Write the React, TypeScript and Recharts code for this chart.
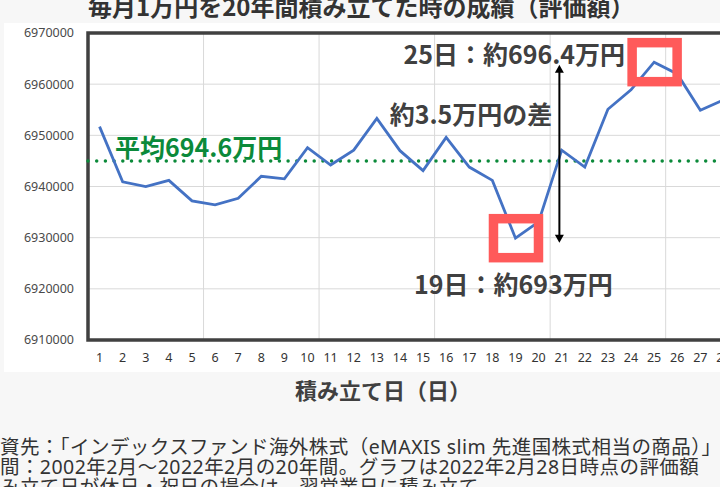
import {
  LineChart,
  Line,
  XAxis,
  YAxis,
  CartesianGrid,
  ReferenceLine,
  ReferenceArea,
} from 'recharts';

const days = [
  1, 2, 3, 4, 5, 6, 7, 8, 9, 10, 11, 12, 13, 14, 15, 16, 17, 18, 19, 20, 21,
  22, 23, 24, 25, 26, 27, 28,
];

// 評価額（円）
const values = [
  6951700, 6940900, 6940000, 6941200, 6937200, 6936400, 6937700, 6942000,
  6941500, 6947600, 6944200, 6947100, 6953300, 6947000, 6943100, 6949600,
  6943800, 6941200, 6929900, 6933100, 6947100, 6943800, 6955100, 6958900,
  6964300, 6962000, 6954900, 6956900,
];

const yTicks = [6910000, 6920000, 6930000, 6940000, 6950000, 6960000, 6970000];
const gridDays = [5.5, 10.5, 15.5, 20.5, 25.5];

const average = 6945000;
const averageLabel = '平均694.6万円';

const highlights = [
  { day: 25, label: '25日：約696.4万円' },
  { day: 19, label: '19日：約693万円' },
];

const diffArrow = { day: 20.9, from: 6929000, to: 6963800, label: '約3.5万円の差' };

const title = '毎月1万円を20年間積み立てた時の成績（評価額）';
const xTitle = '積み立て日（日）';
const notes = [
  '投資先：「インデックスファンド海外株式（eMAXIS slim 先進国株式相当の商品）」',
  '期間：2002年2月〜2022年2月の20年間。グラフは2022年2月28日時点の評価額',
  '積み立て日が休日・祝日の場合は、翌営業日に積み立て',
];

const data = days.map((d, i) => ({ day: d, value: values[i] }));

const JP = '"Noto Sans CJK JP", "Noto Sans", sans-serif';
const MIX = '"Noto Sans", "Noto Sans CJK JP", sans-serif';
const TEXT = '#404040';
const RED = '#ff5a5a';

const HighlightDot = (props: any) => {
  const { cx, cy, payload, index } = props;
  const h = highlights.find((x) => x.day === payload.day);
  if (!h) return <g key={index} />;
  const top = h.day === 25;
  return (
    <g key={index}>
      <rect
        x={cx - 22}
        y={cy - 19.5}
        width={45}
        height={39}
        fill='none'
        stroke={RED}
        strokeWidth={9.5}
      />
      <text
        x={top ? cx - 29 : cx - 2}
        y={top ? cy - 9 : cy + 45}
        textAnchor={top ? 'end' : 'middle'}
        dominantBaseline='central'
        fontFamily={JP}
        fontWeight={700}
        fontSize={25}
        fill={TEXT}
      >
        {h.label}
      </text>
    </g>
  );
};

const ArrowShape = (props: any) => {
  const { x1, y1, x2, y2 } = props;
  const top = Math.min(y1, y2);
  const bottom = Math.max(y1, y2);
  return (
    <g>
      <line x1={x1} y1={top + 6} x2={x2} y2={bottom - 6} stroke='#000' strokeWidth={2} />
      <path d={`M${x1},${top} L${x1 - 4.5},${top + 8} L${x1 + 4.5},${top + 8} Z`} fill='#000' />
      <path d={`M${x1},${bottom} L${x1 - 4.5},${bottom - 8} L${x1 + 4.5},${bottom - 8} Z`} fill='#000' />
      <text
        x={x1 - 7}
        y={top + 48}
        textAnchor='end'
        dominantBaseline='central'
        fontFamily={JP}
        fontWeight={700}
        fontSize={25}
        fill={TEXT}
      >
        {diffArrow.label}
      </text>
    </g>
  );
};

const AverageLabel = (props: any) => {
  const { viewBox } = props;
  return (
    <text
      x={viewBox.x + 27}
      y={viewBox.y - 15}
      dominantBaseline='central'
      fontFamily={JP}
      fontWeight={700}
      fontSize={25}
      fill='#0b8a3a'
    >
      {averageLabel}
    </text>
  );
};

export default function App() {
  return (
    <div
      style={{
        position: 'fixed',
        left: 0,
        top: 0,
        width: 720,
        height: 487,
        overflow: 'hidden',
        background: '#f7f7f7',
        fontFamily: MIX,
      }}
    >
      <div
        style={{
          position: 'absolute',
          left: 88,
          top: -8,
          fontFamily: JP,
          fontSize: 24,
          fontWeight: 700,
          color: '#333',
          whiteSpace: 'nowrap',
          lineHeight: '28px',
        }}
      >
        {title}
      </div>
      <div
        style={{
          position: 'absolute',
          left: 4,
          top: 23,
          width: 760,
          height: 349,
          background: '#fff',
        }}
      />
      <div style={{ position: 'absolute', left: 0, top: 0 }}>
        <LineChart
          width={760}
          height={372}
          data={data}
          margin={{ top: 33, right: 25, bottom: 2, left: 0 }}
        >
          <CartesianGrid
            stroke='#d9d9d9'
            verticalCoordinatesGenerator={({ offset }: any) =>
              gridDays.map((d) => offset.left + ((d - 0.5) / days.length) * offset.width)
            }
          />
          <XAxis
            dataKey='day'
            type='number'
            domain={[0.5, days.length + 0.5]}
            ticks={days}
            interval={0}
            height={30}
            axisLine={false}
            tickLine={false}
            tickSize={0}
            tickMargin={13}
            tick={{ fontSize: 12.5, fill: '#333', fontFamily: '"Noto Sans", sans-serif' }}
          />
          <YAxis
            type='number'
            domain={[yTicks[0], yTicks[yTicks.length - 1]]}
            ticks={yTicks}
            interval={0}
            width={88}
            axisLine={false}
            tickLine={false}
            tickSize={0}
            tickMargin={14}
            tick={{ fontSize: 12.5, fill: '#4a4a4a', fontFamily: '"Noto Sans", sans-serif' }}
          />
          <ReferenceArea
            x1={0.5}
            x2={days.length + 0.5}
            y1={yTicks[0]}
            y2={yTicks[yTicks.length - 1]}
            fill='none'
            fillOpacity={0}
            stroke='#404040'
            strokeWidth={3.5}
          />
          <ReferenceLine
            y={average}
            stroke='#0b8a3a'
            strokeWidth={3.5}
            strokeDasharray='0 8.7'
            strokeLinecap='round'
            label={<AverageLabel />}
          />
          <Line
            dataKey='value'
            stroke='#4472c4'
            strokeWidth={2.8}
            dot={HighlightDot}
            activeDot={false}
            isAnimationActive={false}
          />
          <ReferenceLine
            segment={[
              { x: diffArrow.day, y: diffArrow.from },
              { x: diffArrow.day, y: diffArrow.to },
            ]}
            shape={ArrowShape}
          />
        </LineChart>
      </div>
      <div
        style={{
          position: 'absolute',
          left: 295,
          top: 375,
          fontFamily: JP,
          fontSize: 22,
          fontWeight: 700,
          color: TEXT,
          whiteSpace: 'nowrap',
          lineHeight: '28px',
        }}
      >
        {xTitle}
      </div>
      <div
        style={{
          position: 'absolute',
          left: -20,
          top: 437,
          fontSize: 19.5,
          letterSpacing: 0.45,
          color: '#333',
          lineHeight: '20px',
          whiteSpace: 'nowrap',
        }}
      >
        {notes.map((n) => (
          <div key={n}>{n}</div>
        ))}
      </div>
    </div>
  );
}
